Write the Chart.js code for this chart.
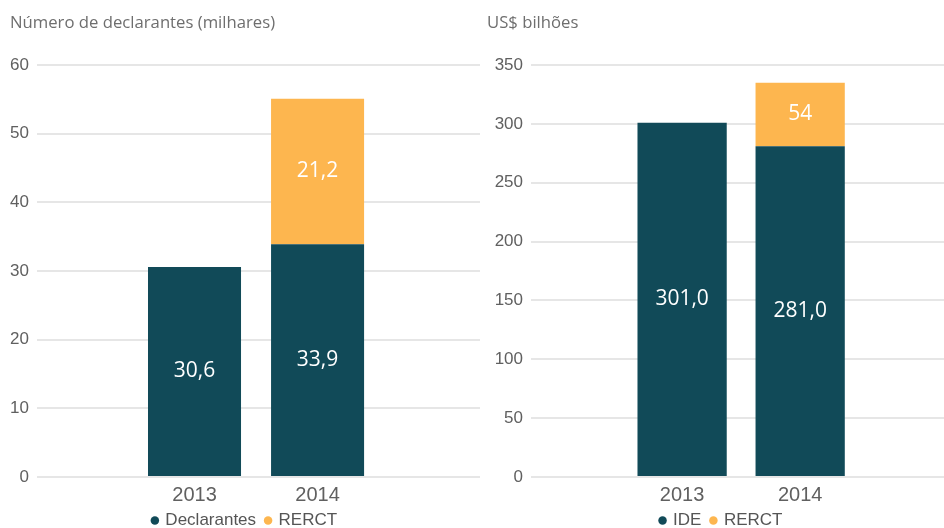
<!DOCTYPE html>
<html>
<head>
<meta charset="utf-8">
<script src="https://cdn.jsdelivr.net/npm/chart.js@4"></script>
<style>
  html, body { margin: 0; padding: 0; background: #ffffff; }
  #wrap { position: relative; width: 944px; height: 528px; overflow: hidden; }
  canvas { position: absolute; top: 0; }
  #c1 { left: 0; }
  #c2 { left: 480px; }
</style>
</head>
<body>
<div id="wrap">
  <canvas id="c1" width="480" height="539"></canvas>
  <canvas id="c2" width="476" height="539"></canvas>
</div>
<script>
// Years shown on both panels
const years = ['2013', '2014'];

// Left panel: number of filers (thousands)
const declarantes = [30.6, 33.9];
const rerctDeclarantes = [null, 21.2];

// Right panel: amounts in US$ billions
const ide = [301.0, 281.0];
const rerctValor = [null, 54];

const NAVY = '#114A58';
const ORANGE = '#FDB64F';

// Writes each segment's value in the middle of its bar
const barValueLabels = {
  id: 'barValueLabels',
  afterDatasetsDraw(chart) {
    const ctx = chart.ctx;
    chart.data.datasets.forEach((ds, di) => {
      const meta = chart.getDatasetMeta(di);
      meta.data.forEach((bar, i) => {
        const v = ds.data[i];
        if (v === null || v === undefined) return;
        const p = bar.getProps(['x', 'y', 'base'], true);
        const txt = v.toFixed(ds.decimals).replace('.', ',');
        ctx.save();
        ctx.font = '21px "Open Sans", "Noto Sans", sans-serif';
        ctx.fillStyle = '#ffffff';
        ctx.textAlign = 'center';
        ctx.textBaseline = 'middle';
        ctx.fillText(txt, p.x, (p.y + p.base) / 2);
        ctx.restore();
      });
    });
  }
};

function buildChart(canvasId, opts) {
  return new Chart(document.getElementById(canvasId), {
    type: 'bar',
    data: {
      labels: years,
      datasets: [
        { label: opts.names[0], data: opts.series[0], backgroundColor: NAVY, decimals: 1,
          barPercentage: 0.756, categoryPercentage: 1, borderWidth: 0 },
        { label: opts.names[1], data: opts.series[1], backgroundColor: ORANGE, decimals: opts.topDecimals,
          barPercentage: 0.756, categoryPercentage: 1, borderWidth: 0 }
      ]
    },
    options: {
      responsive: false,
      animation: false,
      layout: { padding: { left: opts.padLeft, right: 0, top: 0, bottom: 0 } },
      plugins: {
        tooltip: { enabled: false },
        title: {
          display: true,
          text: opts.title,
          align: 'start',
          color: '#6e6e6e',
          font: { family: '"Open Sans", "Noto Sans", sans-serif', size: 16.7, weight: 'normal' },
          padding: { top: 13, bottom: 32 }
        },
        legend: {
          position: 'bottom',
          align: 'center',
          labels: {
            usePointStyle: true,
            pointStyle: 'circle',
            boxWidth: 4,
            boxHeight: 6,
            padding: 10,
            color: '#555555',
            font: { family: '"Liberation Sans", Arial, sans-serif', size: 17 }
          }
        }
      },
      scales: {
        x: {
          type: 'linear',
          offset: false,
          stacked: true,
          min: 2011.72,
          max: 2015.32,
          grid: { display: false, drawTicks: false },
          border: { display: false },
          afterBuildTicks: (scale) => { scale.ticks = years.map(y => ({ value: Number(y) })); },
          afterFit: (scale) => { scale.height = 25; },
          ticks: {
            padding: 8,
            color: '#606060',
            font: { family: '"Liberation Sans", Arial, sans-serif', size: 20, lineHeight: 1 },
            callback: (v) => String(v)
          }
        },
        y: {
          stacked: true,
          min: 0,
          max: opts.yMax,
          grid: { color: '#e6e6e6', lineWidth: 2, drawTicks: false },
          border: { display: false },
          afterFit: (scale) => { scale.width = opts.axisWidth; },
          ticks: {
            stepSize: opts.yStep,
            padding: 8,
            color: '#606060',
            font: { family: '"Liberation Sans", Arial, sans-serif', size: 17 }
          }
        }
      }
    },
    plugins: [barValueLabels]
  });
}

buildChart('c1', {
  title: 'Número de declarantes (milhares)',
  names: ['Declarantes', 'RERCT'],
  series: [declarantes, rerctDeclarantes],
  topDecimals: 1,
  yMax: 60, yStep: 10,
  padLeft: 10, axisWidth: 27
});

buildChart('c2', {
  title: 'US$ bilhões',
  names: ['IDE', 'RERCT'],
  series: [ide, rerctValor],
  topDecimals: 0,
  yMax: 350, yStep: 50,
  padLeft: 7, axisWidth: 44
});
</script>
</body>
</html>
